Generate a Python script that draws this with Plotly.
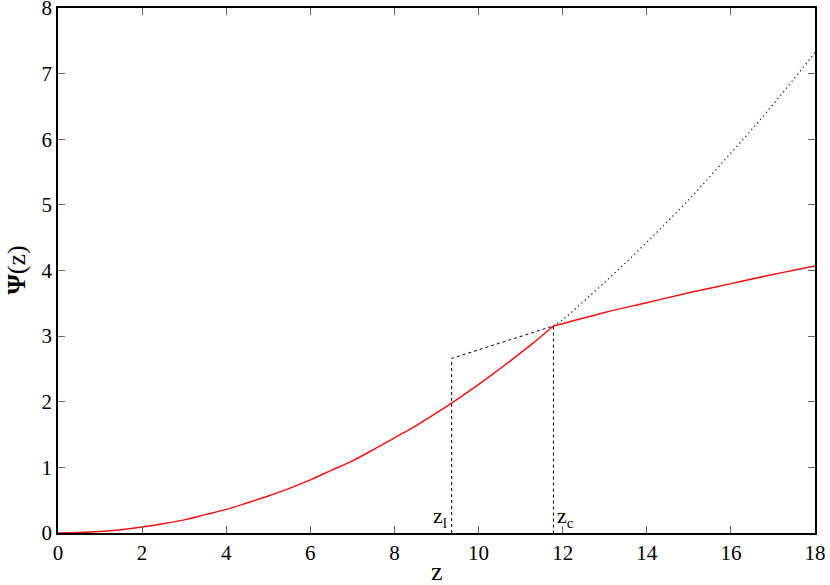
import plotly.graph_objects as go

# Red curve Psi(z): lower branch (z <= z_c) and upper branch (z >= z_c)
z_red_low = [0, 0.5, 1, 1.5, 2, 2.5, 3, 3.5, 4, 4.5, 5, 5.5, 6, 6.5, 7, 7.5, 8, 8.5, 9, 9.36,
             9.75, 10.25, 10.75, 11.25, 11.78]
psi_red_low = [0, 0.006, 0.022, 0.05, 0.09, 0.14, 0.2, 0.28, 0.36, 0.46, 0.565, 0.68, 0.81, 0.955,
               1.1, 1.27, 1.45, 1.63, 1.83, 1.98, 2.15, 2.38, 2.62, 2.87, 3.155]
z_red_high = [11.78, 12, 13, 14, 15, 16, 17, 18]
psi_red_high = [3.155, 3.19, 3.36, 3.51, 3.66, 3.80, 3.94, 4.07]

# Dotted continuation of the lower branch
z_cont = [11.78, 12, 12.5, 13, 13.5, 14, 14.5, 15, 15.5, 16, 16.5, 17, 17.5, 18]
psi_cont = [3.155, 3.25, 3.53, 3.82, 4.12, 4.43, 4.75, 5.08, 5.43, 5.79, 6.15, 6.53, 6.92, 7.32]

# Construction lines
z_l, z_c = 9.36, 11.78
psi_l_top, psi_c = 2.66, 3.155
z_constr = [z_l, z_l, z_c, z_c]
psi_constr = [0, psi_l_top, psi_c, 0]

x_ticks = list(range(0, 19, 2))
y_ticks = list(range(0, 9))

FAM = "Liberation Serif"
RED = "#ee1111"

fig = go.Figure()
fig.add_trace(go.Scatter(x=z_cont, y=psi_cont, mode="lines", line_shape="spline",
                         line=dict(color="#222", width=1.3, dash="1.3px,3.2px"), showlegend=False))
fig.add_trace(go.Scatter(x=z_constr, y=psi_constr, mode="lines",
                         line=dict(color="black", width=1, dash="3px,3px"), showlegend=False))
fig.add_trace(go.Scatter(x=z_red_low, y=psi_red_low, mode="lines", line_shape="spline",
                         line=dict(color=RED, width=1.5, smoothing=1), showlegend=False))
fig.add_trace(go.Scatter(x=z_red_high, y=psi_red_high, mode="lines", line_shape="spline",
                         line=dict(color=RED, width=1.5, smoothing=1), showlegend=False))

fig.add_annotation(x=z_l, y=0, xref="x", yref="y", text="z<sub>l</sub>", showarrow=False,
                   xanchor="right", yanchor="bottom", xshift=-3, yshift=0,
                   font=dict(family=FAM, size=22, color="black"))
fig.add_annotation(x=z_c, y=0, xref="x", yref="y", text="z<sub>c</sub>", showarrow=False,
                   xanchor="left", yanchor="bottom", xshift=2, yshift=0,
                   font=dict(family=FAM, size=22, color="black"))

# Axis titles as annotations for precise placement
fig.add_annotation(x=0.5, y=0, xref="paper", yref="paper", text="z", showarrow=False,
                   xanchor="center", yanchor="top", yshift=-22,
                   font=dict(family=FAM, size=26, color="black"))
fig.add_annotation(x=0, y=0.5, xref="paper", yref="paper", text="<b>Ψ</b>(z)", showarrow=False,
                   xanchor="center", yanchor="middle", xshift=-42, textangle=-90,
                   font=dict(family=FAM, size=26, color="black"))

axis_common = dict(showline=True, linecolor="black", linewidth=1.5, mirror="ticks",
                   ticks="inside", ticklen=7, tickcolor="#666", tickwidth=1,
                   showgrid=False, zeroline=False, automargin=False,
                   ticklabeloverflow="allow",
                   tickfont=dict(family=FAM, size=21, color="black"))

fig.update_layout(
    width=830, height=585,
    margin=dict(l=58, r=15, t=8, b=52, autoexpand=False),
    plot_bgcolor="white", paper_bgcolor="white",
    font=dict(family=FAM, size=21, color="black"),
    xaxis=dict(range=[0, 18], tickvals=x_ticks, ticktext=[str(v) for v in x_ticks], **axis_common),
    yaxis=dict(range=[0, 8], tickvals=y_ticks, ticktext=[str(v) for v in y_ticks], **axis_common),
)

fig.write_html("out.html", config={"displayModeBar": False},
               post_script="document.body.style.margin='0px';document.body.style.overflow='hidden';")
